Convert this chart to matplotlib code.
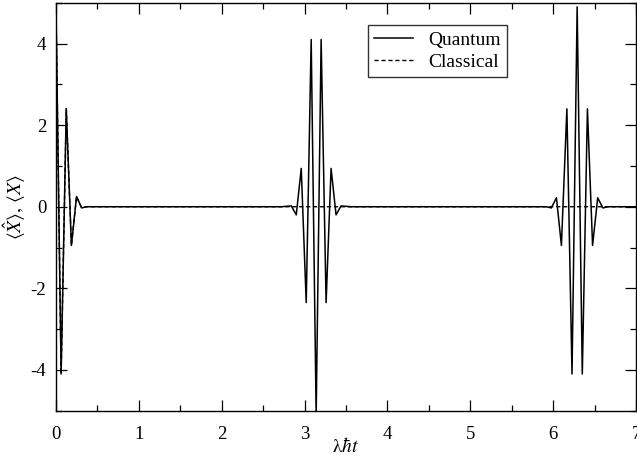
import matplotlib
matplotlib.use("Agg")
import matplotlib.pyplot as plt
from matplotlib.ticker import MultipleLocator

plt.rcParams['font.family'] = ['Liberation Serif', 'DejaVu Serif']
plt.rcParams['mathtext.fontset'] = 'stix'
plt.rcParams['axes.unicode_minus'] = False

quantum_t = [0.0, 0.062, 0.124, 0.186, 0.248, 0.31, 0.37,
             2.72, 2.84, 2.90, 2.96, 3.02, 3.08, 3.14, 3.20, 3.26, 3.32, 3.38, 3.44, 3.56,
             5.92, 5.978, 6.04, 6.10, 6.166, 6.228, 6.29, 6.352, 6.414, 6.476, 6.538, 6.60, 6.66,
             7.0]
quantum_x = [4.9, -4.1, 2.4, -0.95, 0.25, -0.03, 0.0,
             0.0, 0.02, -0.2, 0.94, -2.35, 4.1, -5.1, 4.1, -2.35, 0.94, -0.2, 0.02, 0.0,
             0.0, -0.03, 0.22, -0.95, 2.4, -4.1, 4.9, -4.1, 2.4, -0.95, 0.22, -0.03, 0.0,
             0.0]

# classical packet only shows the initial collapse, no revivals
classical_t = [0.0, 0.062, 0.124, 0.186, 0.248, 0.31, 0.37, 7.0]
classical_x = [4.9, -4.1, 2.4, -0.95, 0.25, -0.03, 0.0, 0.0]

fig = plt.figure(figsize=(6.37, 4.57), dpi=100)
ax = fig.add_axes([0.0879, 0.1013, 0.9105, 0.8927])

# classical underneath so the solid curve covers it where they agree
ax.plot(classical_t, classical_x, color='black', lw=1.0, ls=(0, (3, 2)), label='Classical')
ax.plot(quantum_t, quantum_x, color='black', lw=1.1, label='Quantum')

ax.set_xlim(0, 7)
ax.set_ylim(-5, 5)
ax.xaxis.set_major_locator(MultipleLocator(1))
ax.xaxis.set_minor_locator(MultipleLocator(0.5))
ax.yaxis.set_major_locator(MultipleLocator(2))
ax.yaxis.set_minor_locator(MultipleLocator(1))
ax.tick_params(which='both', direction='in', top=True, right=True, labelsize=13.5, width=0.9)
ax.tick_params(which='major', length=8)
ax.tick_params(which='minor', length=4)
ax.tick_params(axis='x', pad=11)
ax.tick_params(axis='y', pad=7)
for sp in ax.spines.values():
    sp.set_linewidth(1.0)

ax.set_xlabel(r'$\mathrm{\lambda}\hbar t$', fontsize=14, labelpad=-4)
ax.set_ylabel(r'$\langle\hat{X}\rangle,\,\langle X\rangle$', fontsize=14, labelpad=2)

handles, labels = ax.get_legend_handles_labels()
leg = ax.legend(handles[::-1], labels[::-1], loc='upper left', bbox_to_anchor=(0.538, 0.945),
                fontsize=14, frameon=True, fancybox=False, edgecolor='black', handlelength=2.0,
                borderpad=0.3, labelspacing=0.25, handletextpad=0.8, borderaxespad=0)
leg.get_frame().set_linewidth(1.0)

fig.savefig('out.png', dpi=100)
